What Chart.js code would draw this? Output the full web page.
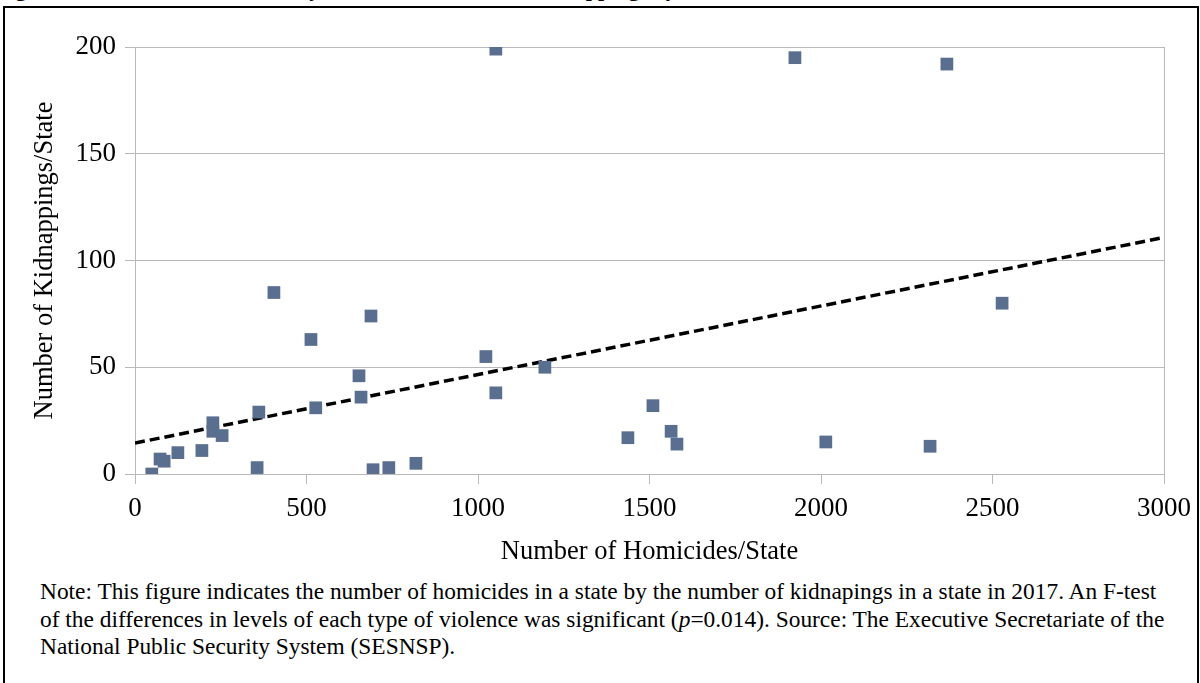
<!DOCTYPE html>
<html>
<head>
<meta charset="utf-8">
<script src="https://cdn.jsdelivr.net/npm/chart.js@4"></script>
<style>
  body { margin: 0; background: #fff; width: 1200px; height: 683px; overflow: hidden; position: relative; }
  #frame { position: absolute; left: 3px; top: 6px; width: 1192px; height: 700px; border: 2px solid #000; }
  #title { position: absolute; left: -4px; top: -24px; font: bold 22px "Liberation Serif"; white-space: nowrap; color: #000; }
  #note { position: absolute; left: 40px; top: 578px; font: 23.4px "Liberation Serif"; line-height: 27.5px; color: #000; white-space: nowrap; }
  #chart { position: absolute; left: 0; top: 0; }
</style>
</head>
<body>
<div id="title">Figure 5. Number of Homicides by State and Number of Kidnappings by State</div>
<div id="frame"></div>
<div id="note">Note: This figure indicates the number of homicides in a state by the number of kidnapings in a state in 2017. An F-test<br>of the differences in levels of each type of violence was significant (<i>p</i>=0.014). Source: The Executive Secretariate of the<br>National Public Security System (SESNSP).</div>
<canvas id="chart" width="1200" height="683"></canvas>
<script>
// homicides vs kidnappings per state, 2017
const homicides = [49, 73, 85, 125, 195, 227, 227, 254, 356, 361, 405, 513, 527, 653, 659, 688,
  694, 740, 819, 1023, 1052, 1052, 1195, 1437, 1510, 1563, 1580, 1924, 2014, 2318, 2367, 2528];
const kidnappings = [0, 7, 6, 10, 11, 24, 20, 18, 3, 29, 85, 63, 31, 46, 36, 74,
  2, 3, 5, 55, 199, 38, 50, 17, 32, 20, 14, 195, 15, 13, 192, 80];

// linear trend line end points
const trendX = [0, 3000];
const trendY = [14.5, 110.8];

const xTicks = [0, 500, 1000, 1500, 2000, 2500, 3000];
const yTicks = [0, 50, 100, 150, 200];

const gridGray = '#b9b9b9';

const points = homicides.map((h, i) => ({ x: h, y: kidnappings[i] }));
const trend = trendX.map((x, i) => ({ x: x, y: trendY[i] }));

const ctx = document.getElementById('chart').getContext('2d');
new Chart(ctx, {
  type: 'scatter',
  data: {
    datasets: [{
      label: 'Kidnappings',
      data: points,
      pointStyle: 'rect',
      radius: 9,
      backgroundColor: '#5a6e90',
      borderColor: '#5a6e90',
      borderWidth: 0,
      order: 1
    }, {
      label: 'Trend',
      type: 'line',
      data: trend,
      borderColor: '#000',
      borderWidth: 3.5,
      borderDash: [10, 5],
      pointRadius: 0,
      fill: false,
      order: 2
    }]
  },
  options: {
    responsive: false,
    devicePixelRatio: 1,
    animation: false,
    layout: { padding: { left: 20, right: 36, top: 47, bottom: 109 } },
    plugins: { legend: { display: false }, tooltip: { enabled: false } },
    scales: {
      x: {
        type: 'linear',
        min: 0,
        max: 3000,
        afterFit: s => { s.height = 100; },
        afterBuildTicks: s => { s.ticks = xTicks.map(v => ({ value: v })); },
        grid: {
          color: c => (c.tick && c.tick.value === 3000) ? gridGray : 'rgba(0,0,0,0)',
          tickColor: gridGray,
          tickLength: 10
        },
        border: { color: gridGray },
        ticks: {
          color: '#000', padding: 9, maxRotation: 0,
          callback: v => String(v),
          font: { family: 'Liberation Serif', size: 27 }
        },
        title: {
          display: true,
          text: 'Number of Homicides/State',
          color: '#000',
          padding: { top: 0, bottom: 6 },
          font: { family: 'Liberation Serif', size: 26.5 }
        }
      },
      y: {
        type: 'linear',
        min: 0,
        max: 200,
        afterFit: s => { s.width = 115; },
        afterBuildTicks: s => { s.ticks = yTicks.map(v => ({ value: v })); },
        grid: { color: gridGray, tickColor: gridGray, tickLength: 10 },
        border: { color: gridGray },
        ticks: {
          color: '#000', padding: 9,
          callback: v => String(v),
          font: { family: 'Liberation Serif', size: 27 }
        },
        title: {
          display: true,
          text: 'Number of Kidnappings/State',
          color: '#000',
          padding: { top: 9, bottom: 0 },
          font: { family: 'Liberation Serif', size: 26.5 }
        }
      }
    }
  }
});
</script>
</body>
</html>
